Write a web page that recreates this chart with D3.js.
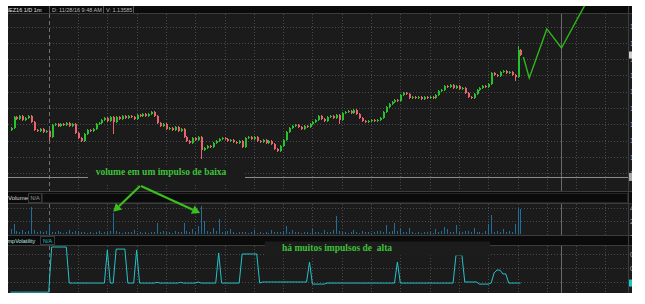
<!DOCTYPE html>
<html>
<head>
<meta charset="utf-8">
<script src="https://cdn.jsdelivr.net/npm/d3@7"></script>
<style>
  body { margin: 0; background: #fff; }
  svg { display: block; }
  text { white-space: pre; }
</style>
</head>
<body>
<script>
// ---- data (1-minute bars) ----
var firstOpen = 1.13365;
var closes = [
  1.13377, 1.13445, 1.13433, 1.13451, 1.13426, 1.13439, 1.13451, 1.13414, 1.13365, 1.13359,
  1.13371, 1.13353, 1.13359, 1.13322, 1.13396, 1.13402, 1.13390, 1.13402, 1.13396, 1.13408,
  1.13390, 1.13402, 1.13347, 1.13316, 1.13298, 1.13340, 1.13365, 1.13359, 1.13371, 1.13402,
  1.13408, 1.13426, 1.13439, 1.13420, 1.13445, 1.13414, 1.13445, 1.13433, 1.13451, 1.13439,
  1.13451, 1.13445, 1.13433, 1.13457, 1.13451, 1.13463, 1.13451, 1.13463, 1.13475, 1.13451,
  1.13408, 1.13390, 1.13402, 1.13371, 1.13377, 1.13365, 1.13383, 1.13359, 1.13371, 1.13322,
  1.13298, 1.13285, 1.13316, 1.13304, 1.13322, 1.13242, 1.13255, 1.13267, 1.13261, 1.13285,
  1.13298, 1.13310, 1.13316, 1.13310, 1.13298, 1.13304, 1.13291, 1.13285, 1.13298, 1.13261,
  1.13316, 1.13322, 1.13310, 1.13322, 1.13298, 1.13291, 1.13304, 1.13285, 1.13298, 1.13279,
  1.13248, 1.13236, 1.13267, 1.13304, 1.13353, 1.13377, 1.13390, 1.13396, 1.13383, 1.13371,
  1.13390, 1.13383, 1.13402, 1.13414, 1.13426, 1.13451, 1.13433, 1.13420, 1.13445, 1.13451,
  1.13439, 1.13457, 1.13426, 1.13469, 1.13475, 1.13482, 1.13469, 1.13488, 1.13463, 1.13439,
  1.13420, 1.13414, 1.13420, 1.13426, 1.13420, 1.13426, 1.13439, 1.13475, 1.13506, 1.13525,
  1.13537, 1.13549, 1.13543, 1.13580, 1.13592, 1.13586, 1.13561, 1.13567, 1.13561, 1.13567,
  1.13555, 1.13567, 1.13561, 1.13567, 1.13561, 1.13580, 1.13604, 1.13610, 1.13635, 1.13629,
  1.13641, 1.13623, 1.13635, 1.13617, 1.13623, 1.13592, 1.13567, 1.13561, 1.13586, 1.13610,
  1.13623, 1.13635, 1.13629, 1.13647, 1.13715, 1.13702, 1.13696, 1.13721, 1.13727, 1.13715,
  1.13721, 1.13702, 1.13690, 1.13856, 1.13825
];
// long wicks that stand out  [bar, price]
var wickHigh = [[173, 1.13874]];
var wickLow = [[13, 1.13304], [35, 1.13347], [65, 1.13193], [112, 1.13408], [172, 1.13672]];

var volumes = [
  80, 150, 40, 30, 55, 25, 45, 420, 60, 35,
  50, 30, 40, 155, 35, 25, 45, 30, 20, 35,
  60, 30, 45, 50, 25, 35, 20, 30, 15, 25,
  40, 20, 30, 25, 45, 330, 40, 30, 20, 35,
  25, 30, 60, 20, 30, 15, 25, 20, 35, 25,
  170, 30, 45, 25, 35, 20, 40, 25, 30, 170,
  45, 35, 80, 30, 120, 435, 200, 45, 30, 90,
  40, 230, 35, 25, 40, 80, 30, 20, 35, 25,
  30, 20, 25, 60, 20, 30, 15, 25, 20, 60,
  35, 30, 25, 40, 120, 35, 60, 25, 30, 20,
  25, 30, 20, 80, 25, 30, 20, 60, 25, 30,
  60, 280, 40, 25, 30, 20, 35, 60, 25, 20,
  45, 25, 30, 20, 35, 45, 45, 30, 140, 35,
  45, 170, 40, 80, 30, 25, 90, 30, 20, 25,
  20, 30, 25, 35, 20, 80, 30, 45, 110, 80,
  25, 35, 140, 30, 25, 40, 45, 30, 90, 25,
  35, 20, 40, 155, 295, 30, 45, 30, 80, 35,
  45, 30, 155, 400, 390
];

var impVol = [
  0.011, 0.011, 0.011, 0.011, 0.011, 0.011, 0.011, 0.011, 0.011, 0.011,
  0.011, 0.011, 0.011, 0.011, 0.140, 0.140, 0.140, 0.140, 0.140, 0.140,
  0.037, 0.037, 0.037, 0.037, 0.037, 0.037, 0.037, 0.037, 0.037, 0.037,
  0.037, 0.037, 0.037, 0.131, 0.037, 0.037, 0.134, 0.134, 0.134, 0.134,
  0.037, 0.037, 0.037, 0.131, 0.037, 0.037, 0.037, 0.037, 0.037, 0.037,
  0.039, 0.037, 0.037, 0.037, 0.037, 0.037, 0.037, 0.037, 0.039, 0.037,
  0.037, 0.037, 0.037, 0.037, 0.040, 0.037, 0.037, 0.037, 0.037, 0.037,
  0.037, 0.123, 0.037, 0.037, 0.037, 0.037, 0.037, 0.037, 0.037, 0.120,
  0.120, 0.120, 0.120, 0.120, 0.120, 0.037, 0.040, 0.040, 0.040, 0.040,
  0.040, 0.040, 0.040, 0.040, 0.040, 0.040, 0.040, 0.040, 0.040, 0.040,
  0.040, 0.040, 0.097, 0.034, 0.034, 0.034, 0.034, 0.034, 0.037, 0.037,
  0.037, 0.037, 0.037, 0.037, 0.037, 0.037, 0.037, 0.037, 0.037, 0.037,
  0.037, 0.037, 0.037, 0.037, 0.037, 0.037, 0.037, 0.037, 0.037, 0.037,
  0.037, 0.037, 0.097, 0.037, 0.037, 0.037, 0.037, 0.037, 0.037, 0.037,
  0.037, 0.037, 0.037, 0.037, 0.037, 0.037, 0.037, 0.037, 0.037, 0.037,
  0.037, 0.037, 0.117, 0.117, 0.117, 0.040, 0.040, 0.040, 0.040, 0.040,
  0.034, 0.034, 0.034, 0.034, 0.037, 0.066, 0.074, 0.074, 0.063, 0.063,
  0.037, 0.037, 0.037, 0.037, 0.037
];

// hand-drawn projection (green line)
var projBars = [175, 177, 183, 188, 196];
var projVals = [1.13813, 1.13684, 1.13985, 1.13868, 1.14132];

var priceTicks = [1.130, 1.131, 1.132, 1.133, 1.134, 1.135, 1.136, 1.137, 1.138, 1.139, 1.140];
var volTicks = [0, 200, 400];
var ivTicks = [0.04, 0.08, 0.12];
var timeTicks = [13, 23, 33, 43, 53, 63, 73, 83, 93, 103, 113, 123, 133, 143, 153, 163, 173, 183, 193, 203];
var crossBar = 188, crossPrice = 1.13077;

var headerTexts = ["6EZ16 1/D 1m", "D: 11/28/16 9:48 AM", "V: 1.13585"];
var noteLow = "volume em um impulso de baixa";
var noteHigh = "há muitos impulsos de  alta";

// ---- layout ----
var svgWidth = 645, svgHeight = 304;
var left = 8, right = 628, axisRight = 632;
var pTop = 13, pBottom = 191;
var vTop = 203, vBottom = 235;
var iTop = 245, iBottom = 293;

var green = "#3cbf1e", upCol = "#27c12f", downCol = "#e8636b", flatCol = "#a0a0a0";
var gridCol = "#4a4a4a";

var svg = d3.select("body").append("svg")
  .attr("width", svgWidth)
  .attr("height", svgHeight);
var defs = svg.append("defs");
function addClip(id, x, y, w, h) {
  defs.append("clipPath").attr("id", id)
    .append("rect").attr("x", x).attr("y", y).attr("width", w).attr("height", h);
}
addClip("clipPrice", left, pTop, right - left, pBottom - pTop);
addClip("clipProj", left, 6, right - left, pBottom - 6);
addClip("clipAxis", right, 0, axisRight - right, svgHeight);
addClip("clipLeft", left, 0, right - left, svgHeight);

// scales
var x = d3.scaleLinear().domain([-0.9, 210.7]).range([left, right]);
var yPrice = d3.scaleLinear().domain([1.130, 1.140]).range([189.5, 26.5]);
var yVol = d3.scaleLinear().domain([0, 450]).range([234, 205]);
var yIv = d3.scaleLinear().domain([0.04, 0.12]).range([282, 254]);

function px(v) { return Math.round(v) + 0.5; }

// backgrounds
svg.append("rect").attr("x", left).attr("y", 6).attr("width", axisRight - left).attr("height", iBottom - 6)
  .attr("fill", "#1b1b1b");
[[6, pTop], [pBottom + 1, vTop], [vBottom, iTop]].forEach(function(b) {
  svg.append("rect").attr("x", left).attr("y", b[0]).attr("width", axisRight - left).attr("height", b[1] - b[0])
    .attr("fill", "#0b0b0b");
});
[pTop, pBottom, vTop, vBottom, iTop].forEach(function(yy) {
  svg.append("line").attr("x1", left).attr("x2", axisRight).attr("y1", yy + 0.5).attr("y2", yy + 0.5)
    .attr("stroke", "#3c3c3c");
});
svg.append("line").attr("x1", right + 0.5).attr("x2", right + 0.5).attr("y1", 6).attr("y2", iBottom)
  .attr("stroke", "#3c3c3c");

// grid for a panel
function panelGrid(top, bottom, ticks, scale) {
  var g = svg.append("g").attr("shape-rendering", "crispEdges");
  g.selectAll("line.h").data(ticks).enter().append("line")
    .attr("x1", left).attr("x2", right)
    .attr("y1", d => px(scale(d))).attr("y2", d => px(scale(d)))
    .attr("stroke", gridCol).attr("stroke-dasharray", "1,2");
  g.selectAll("line.v").data(timeTicks).enter().append("line")
    .attr("x1", d => px(x(d))).attr("x2", d => px(x(d)))
    .attr("y1", top + 1).attr("y2", bottom)
    .attr("stroke", (d, i) => i === 0 ? "#707070" : gridCol)
    .attr("stroke-dasharray", (d, i) => i === 0 ? "4,3" : "1,2");
  g.append("line")
    .attr("x1", px(x(crossBar))).attr("x2", px(x(crossBar)))
    .attr("y1", top + 1).attr("y2", bottom)
    .attr("stroke", "#6a6a6a");
  return g;
}

// ---- price panel ----
panelGrid(pTop, pBottom, priceTicks.filter(d => yPrice(d) < pBottom - 2), yPrice);

var hiMap = {}, loMap = {};
wickHigh.forEach(d => hiMap[d[0]] = d[1]);
wickLow.forEach(d => loMap[d[0]] = d[1]);
var bars = closes.map(function(c, i) {
  var o = i === 0 ? firstOpen : closes[i - 1];
  return {
    i: i, o: o, c: c,
    hi: hiMap[i] !== undefined ? hiMap[i] : Math.max(o, c),
    lo: loMap[i] !== undefined ? loMap[i] : Math.min(o, c)
  };
});
function candleCol(d) { return d.c > d.o ? upCol : (d.c < d.o ? downCol : flatCol); }

var candles = svg.append("g").attr("clip-path", "url(#clipPrice)").attr("shape-rendering", "crispEdges");
candles.selectAll("line").data(bars).enter().append("line")
  .attr("x1", d => px(x(d.i))).attr("x2", d => px(x(d.i)))
  .attr("y1", d => yPrice(d.hi) - 1).attr("y2", d => yPrice(d.lo) + 1)
  .attr("stroke", candleCol);
candles.selectAll("rect").data(bars).enter().append("rect")
  .attr("x", d => Math.round(x(d.i)) - 0.5)
  .attr("width", 2)
  .attr("y", d => yPrice(Math.max(d.o, d.c)))
  .attr("height", d => Math.max(1, Math.abs(yPrice(d.o) - yPrice(d.c))))
  .attr("fill", candleCol);

// horizontal crosshair
svg.append("line").attr("x1", left).attr("x2", right)
  .attr("y1", px(yPrice(crossPrice))).attr("y2", px(yPrice(crossPrice)))
  .attr("stroke", "#8c8c8c");

// projection line
var projLine = d3.line().x(d => x(d[0])).y(d => yPrice(d[1]));
svg.append("path").attr("clip-path", "url(#clipProj)")
  .datum(projBars.map((b, i) => [b, projVals[i]]))
  .attr("d", projLine)
  .attr("fill", "none").attr("stroke", "#2fb81a").attr("stroke-width", 1.4);

// ---- volume panel ----
panelGrid(vTop, vBottom, volTicks.slice(1), yVol);
svg.append("g").attr("shape-rendering", "crispEdges")
  .selectAll("rect").data(volumes).enter().append("rect")
  .attr("x", (d, i) => Math.round(x(i)))
  .attr("width", 1)
  .attr("y", d => yVol(d))
  .attr("height", d => yVol(0) - yVol(d))
  .attr("fill", "#1f6e9c");

// ---- implied volatility panel ----
panelGrid(iTop, iBottom, ivTicks, yIv);
svg.append("path")
  .datum(impVol)
  .attr("d", d3.line().x((d, i) => x(i)).y(d => yIv(d)))
  .attr("fill", "none").attr("stroke", "#25c3c8").attr("stroke-width", 1);

// ---- right axes (mostly cut off, as in the screenshot) ----
var axG = svg.append("g").attr("clip-path", "url(#clipAxis)");
function rightAxis(scale, ticks, fmt) {
  var a = axG.append("g").attr("transform", "translate(" + (right + 1) + ",0)")
    .call(d3.axisRight(scale).tickValues(ticks).tickSize(0).tickPadding(1).tickFormat(fmt));
  a.select(".domain").remove();
  a.selectAll("text").attr("fill", "#b0b0b0").attr("font-size", 7).attr("font-family", "Liberation Sans");
}
rightAxis(yPrice, priceTicks.filter(d => yPrice(d) < pBottom - 2), d3.format(".4f"));
rightAxis(yVol, volTicks, d => d === 0 ? "-" : d);
rightAxis(yIv, ivTicks.slice(1), d3.format(".2f"));
axG.append("rect").attr("x", right + 1).attr("width", 8)
  .attr("y", yPrice(closes[closes.length - 1]) - 3.5).attr("height", 7).attr("fill", "#d0d0d0");
axG.append("rect").attr("x", right + 1).attr("width", 8)
  .attr("y", yPrice(crossPrice) - 4).attr("height", 8).attr("fill", "#a8a8a8");
axG.append("rect").attr("x", right + 1).attr("width", 8)
  .attr("y", yIv(impVol[impVol.length - 1]) - 3.5).attr("height", 7).attr("fill", "#1ec8c8");

// ---- panel headers ----
var hdr = svg.append("g").attr("clip-path", "url(#clipLeft)")
  .attr("font-family", "Liberation Sans").attr("font-size", 5.5);
var hdrX = [6, 52, 106];
headerTexts.forEach(function(t, i) {
  hdr.append("text").attr("x", hdrX[i]).attr("y", 11.5).attr("fill", i === 0 ? "#e0e0e0" : "#b8b8b8").text(t);
});
[49.5, 103.5, 133.5].forEach(function(sx) {
  hdr.append("line").attr("x1", sx).attr("x2", sx).attr("y1", 6).attr("y2", pTop).attr("stroke", "#555");
});
hdr.append("text").attr("x", 8).attr("y", 200).attr("fill", "#d8d8d8").attr("font-size", 6).text("Volume");
hdr.append("rect").attr("x", 28.5).attr("y", 193.5).attr("width", 13).attr("height", 9)
  .attr("fill", "none").attr("stroke", "#3a3a3a");
hdr.append("text").attr("x", 30.5).attr("y", 200).attr("fill", "#9a9a9a").attr("font-size", 5.5).text("N/A");
hdr.append("rect").attr("x", 42.5).attr("y", 193.5).attr("width", right - 43).attr("height", 9)
  .attr("fill", "none").attr("stroke", "#262626");
hdr.append("text").attr("x", 6).attr("y", 242.5).attr("fill", "#bfe6e8").attr("font-size", 5.5).text("ImpVolatility");
hdr.append("rect").attr("x", 40.5).attr("y", 236.5).attr("width", 14).attr("height", 8)
  .attr("fill", "none").attr("stroke", "#3a3a3a");
hdr.append("text").attr("x", 43).attr("y", 242.5).attr("fill", "#25c3c8").attr("font-size", 5.5).text("N/A");

// ---- annotations ----
var ann = svg.append("g");
ann.append("rect").attr("x", 88).attr("y", 166).attr("width", 157).attr("height", 18).attr("fill", "#1b1b1b");
ann.append("text").attr("x", 161).attr("y", 175).attr("text-anchor", "middle")
  .attr("font-family", "Liberation Serif").attr("font-weight", "bold").attr("font-size", 9.5)
  .attr("fill", "#3fc03a").text(noteLow);
ann.append("rect").attr("x", 265).attr("y", 241.5).attr("width", 225).attr("height", 14).attr("fill", "#1c1c1c");
ann.append("text").attr("x", 282).attr("y", 250.5)
  .attr("font-family", "Liberation Serif").attr("font-weight", "bold").attr("font-size", 9.5)
  .attr("fill", "#3fc03a").text(noteHigh);

function arrow(x0, y0, x1, y1) {
  var a = Math.atan2(y1 - y0, x1 - x0), len = 8, w = 4.5;
  var bx = x1 - len * Math.cos(a), by = y1 - len * Math.sin(a);
  ann.append("line").attr("x1", x0).attr("y1", y0).attr("x2", bx).attr("y2", by)
    .attr("stroke", green).attr("stroke-width", 2.2);
  ann.append("path")
    .attr("d", "M" + x1 + "," + y1 +
      "L" + (bx + w * Math.sin(a)) + "," + (by - w * Math.cos(a)) +
      "L" + (bx - w * Math.sin(a)) + "," + (by + w * Math.cos(a)) + "Z")
    .attr("fill", green);
}
arrow(140, 186, x(35), yVol(volumes[35]) - 1);
arrow(141, 186, x(65) - 1, yVol(volumes[65]) + 7);
</script>
</body>
</html>
